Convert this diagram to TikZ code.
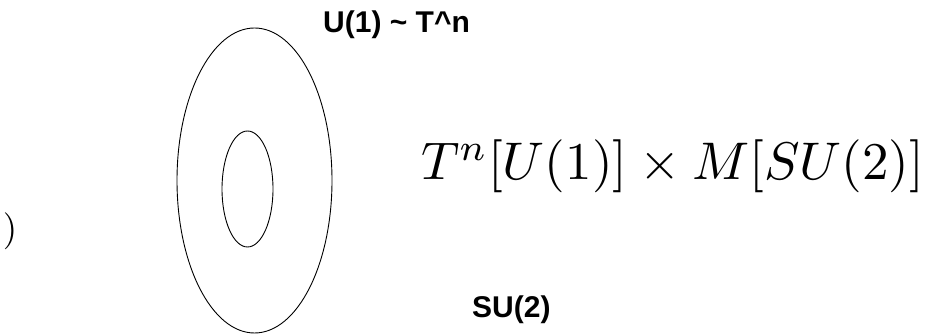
\documentclass[tikz,border=0pt]{standalone}
\usepackage{fontspec}
\newfontfamily\lsans{Liberation Sans}
\begin{document}
\begin{tikzpicture}[x=1pt,y=1pt,
  ring/.style={draw=black,line width=0.9pt},
  lbl/.style={inner sep=0pt,anchor=base west,font=\lsans\bfseries\fontsize{30}{36}\selectfont},
  mathlbl/.style={inner sep=0pt,scale=5.3,transform shape}]
\useasboundingbox (0,0) rectangle (929,334);
\draw[ring] (254.5,153.5) ellipse [x radius=77.5, y radius=152.5];
\draw[ring] (247.5,145) ellipse [x radius=25.5, y radius=58];
\node[lbl] (u1) at (323,301) {U(1) \textasciitilde{} T\textasciicircum n};
\node[lbl] (su2) at (472,16) {SU(2)};
\node[mathlbl,anchor=base west] (prod) at (420,154) {$T^n[U(1)]\times M[SU(2)]$};
\node[inner sep=0pt,scale=3.7,transform shape,anchor=base east] (cut) at (18,93) {$2\mkern3mu)$};
\end{tikzpicture}
\end{document}
